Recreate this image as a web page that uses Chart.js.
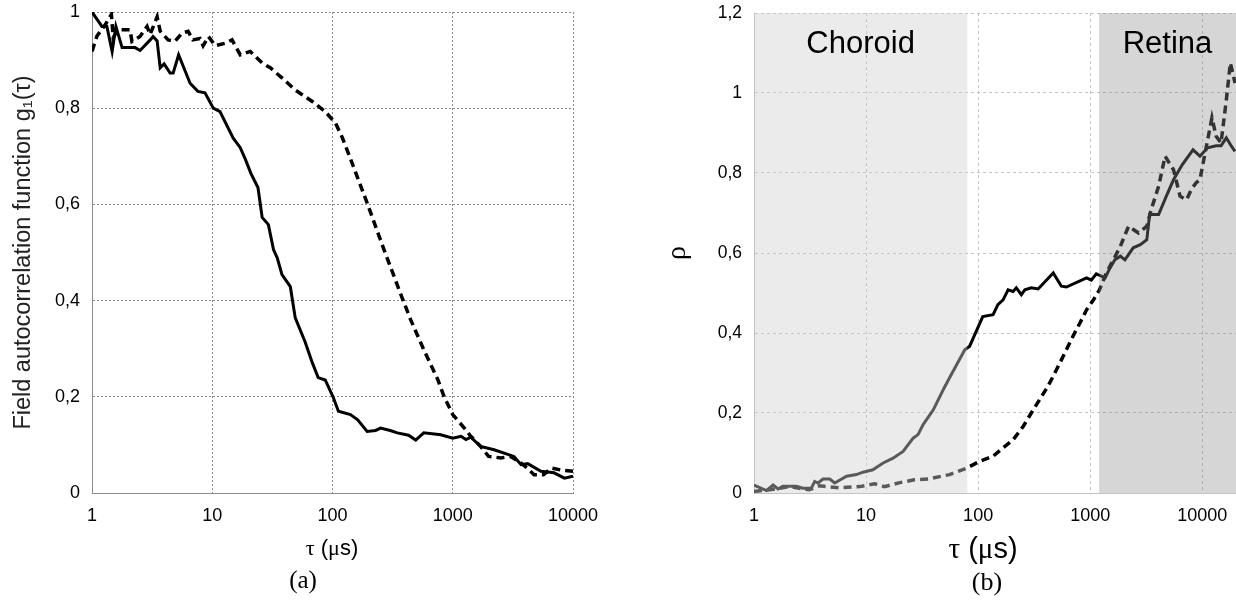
<!DOCTYPE html>
<html>
<head>
<meta charset="utf-8">
<script src="https://cdn.jsdelivr.net/npm/chart.js@4.4.1/dist/chart.umd.min.js"></script>
<style>
    html, body { margin: 0; padding: 0; background: #fff; }
    body { width: 1236px; height: 600px; position: relative; overflow: hidden; font-family: 'Liberation Sans', Arial, sans-serif; }
    canvas { position: absolute; top: 0; }
    #chartA { left: 0; }
    #chartB { left: 600px; }
    .lbl { position: absolute; transform: translate(-50%, -50%); white-space: nowrap; color: #000; }
    .g, .cap { font-family: 'Liberation Serif', 'Times New Roman', serif; }
</style>
</head>
<body>
<canvas id="chartA" width="600" height="600"></canvas>
<canvas id="chartB" width="636" height="600"></canvas>
<div class="lbl" style="left:332px; top:548px; font-size:22px;"><span class="g">τ</span> (<span class="g">μ</span>s)</div>
<div class="lbl cap" style="left:303px; top:580px; font-size:25px;">(a)</div>
<div class="lbl" style="left:983px; top:548px; font-size:29px;"><span class="g">τ</span> (<span class="g">μ</span>s)</div>
<div class="lbl cap" style="left:987px; top:582px; font-size:26px;">(b)</div>
<script>
// ==========================================
// Data
// ==========================================
const xTicks = [1, 10, 100, 1000, 10000];
const xLabels = ['1', '10', '100', '1000', '10000'];
const yTicksA = [0, 0.2, 0.4, 0.6, 0.8, 1];
const yLabelsA = ['0', '0,2', '0,4', '0,6', '0,8', '1'];
const yTicksB = [0, 0.2, 0.4, 0.6, 0.8, 1, 1.2];
const yLabelsB = ['0', '0,2', '0,4', '0,6', '0,8', '1', '1,2'];

// (a) g1(tau) : [tau (us), g1]
const solidA = [
    [1, 1], [1.21, 0.97], [1.33, 0.97], [1.47, 0.918], [1.58, 0.97], [1.78, 0.926], [2.28, 0.926],
    [2.51, 0.92], [3.05, 0.942], [3.22, 0.949], [3.48, 0.94], [3.69, 0.884], [3.98, 0.892], [4.46, 0.873],
    [4.73, 0.873], [5.25, 0.911], [6.54, 0.852], [7.6, 0.835], [8.7, 0.832], [10.2, 0.8], [11.6, 0.793],
    [14.9, 0.738], [17.1, 0.718], [18.9, 0.693], [21, 0.664], [24, 0.635], [26, 0.573], [29.3, 0.558],
    [32.3, 0.506], [34.7, 0.489], [38, 0.454], [44.6, 0.429], [49, 0.364], [59, 0.315], [67.9, 0.271],
    [76, 0.24], [87, 0.235], [101, 0.2], [112, 0.17], [141, 0.163], [162, 0.152], [194, 0.128],
    [228, 0.13], [251, 0.135], [302, 0.13], [346, 0.125], [429, 0.12], [492, 0.11], [574, 0.125],
    [794, 0.121], [1000, 0.114], [1172, 0.118], [1288, 0.111], [1413, 0.116], [1705, 0.097],
    [2209, 0.09], [3228, 0.076], [3706, 0.059], [4203, 0.061], [5412, 0.045], [6949, 0.042],
    [8483, 0.031], [10000, 0.035]
];
const dashA = [
    [1, 0.918], [1.1, 0.95], [1.3, 0.975], [1.45, 0.995], [1.5, 0.947], [1.65, 0.963], [2.07, 0.963],
    [2.15, 0.939], [2.51, 0.949], [2.87, 0.97], [3.04, 0.953], [3.48, 0.99], [3.69, 0.96], [4.3, 0.942],
    [4.9, 0.939], [5.6, 0.956], [6.3, 0.96], [6.9, 0.942], [7.9, 0.945], [8.4, 0.93], [9.3, 0.949],
    [10.6, 0.93], [12.8, 0.935], [14.6, 0.942], [17.1, 0.911], [20.7, 0.918], [26, 0.894], [30.4, 0.884],
    [38, 0.863], [49, 0.838], [67.9, 0.814], [87, 0.793], [106, 0.769], [121, 0.738], [141, 0.695],
    [194, 0.603], [268, 0.506], [366, 0.416], [447, 0.36], [574, 0.298], [750, 0.236], [845, 0.201],
    [1000, 0.163], [1248, 0.135], [1413, 0.118], [1705, 0.097], [1986, 0.076], [2512, 0.073],
    [3035, 0.076], [3706, 0.062], [4327, 0.048], [4735, 0.038], [5680, 0.038], [6618, 0.052],
    [7850, 0.048], [10000, 0.045]
];

// (b) rho(tau)
const solidB = [
    [1, 0.02], [1.29, 0.006], [1.48, 0.02], [1.64, 0.01], [1.81, 0.017], [2.39, 0.017], [2.74, 0.012],
    [3.25, 0.012], [3.48, 0.029], [3.73, 0.025], [4.13, 0.035], [4.74, 0.035], [5.25, 0.025], [6.7, 0.042],
    [8.2, 0.046], [9.4, 0.052], [11.5, 0.058], [14.2, 0.075], [17.4, 0.087], [21.4, 0.104], [26.3, 0.137],
    [29.1, 0.146], [32.3, 0.171], [39.8, 0.208], [48.8, 0.258], [55.6, 0.288], [76, 0.358], [84, 0.367],
    [110, 0.441], [136, 0.446], [150, 0.471], [167, 0.483], [185, 0.508], [205, 0.504], [219, 0.513],
    [243, 0.496], [261, 0.508], [298, 0.513], [343, 0.51], [468, 0.55], [553, 0.517], [614, 0.515],
    [928, 0.538], [1024, 0.532], [1133, 0.548], [1360, 0.538], [1500, 0.562], [1660, 0.583],
    [1860, 0.592], [2040, 0.583], [2420, 0.613], [2800, 0.621], [3200, 0.633], [3390, 0.696],
    [4080, 0.696], [4780, 0.742], [5540, 0.783], [6640, 0.821], [8270, 0.858], [9530, 0.842],
    [11150, 0.863], [13300, 0.868], [14700, 0.868], [16400, 0.888], [18200, 0.867], [19600, 0.854]
];
const dashB = [
    [1, 0.004], [1.38, 0.008], [2.07, 0.016], [3.1, 0.008], [3.85, 0.018], [5.8, 0.013], [8.8, 0.016],
    [11.9, 0.023], [14.6, 0.016], [20, 0.026], [27, 0.033], [35.8, 0.035], [55.6, 0.046], [78.7, 0.062],
    [103, 0.079], [136, 0.092], [167, 0.113], [205, 0.133], [253, 0.167], [298, 0.2], [353, 0.233],
    [420, 0.267], [500, 0.308], [593, 0.35], [702, 0.392], [810, 0.425], [928, 0.458], [1070, 0.483],
    [1210, 0.508], [1392, 0.55], [1610, 0.583], [1860, 0.617], [2200, 0.667], [2700, 0.65], [3200, 0.667],
    [3500, 0.708], [4080, 0.767], [4660, 0.842], [5540, 0.808], [6340, 0.742], [7250, 0.733],
    [7970, 0.758], [8780, 0.775], [9530, 0.783], [10600, 0.85], [12200, 0.938], [13300, 0.892],
    [14700, 0.875], [16400, 0.983], [17800, 1.075], [19000, 1.042], [19600, 1.025]
];

// shaded tissue zones in (b)
const zoneNames = ['Choroid', 'Retina'];
const zoneBounds = [[1, 80], [1200, 20000]];
const zoneFills = ['rgba(209, 209, 209, 0.43)', 'rgba(140, 140, 140, 0.36)'];

// ==========================================
// Helpers
// ==========================================
const SANS = "'Liberation Sans', Arial, sans-serif";
const SERIF = "'Liberation Serif', 'Times New Roman', serif";
const toPts = arr => arr.map(([x, y]) => ({ x, y }));

function line(data, dashed) {
    return {
        data: toPts(data),
        borderColor: '#000',
        borderWidth: dashed ? 3.5 : 3,
        borderDash: dashed ? [8, 5] : [],
        pointRadius: 0,
        tension: 0,
        fill: false
    };
}

// fixed axis boxes so the plot area lands where the figure has it
function fixX(s) { s.height = 107; s.paddingLeft = 0; s.paddingRight = 0; }
function fixY(w) { return s => { s.width = w; s.paddingTop = 0; s.paddingBottom = 0; }; }

function xScale(max, gridColor, dash) {
    return {
        type: 'logarithmic', min: 1, max: max,
        afterBuildTicks: s => { s.ticks = xTicks.map(v => ({ value: v })); },
        afterFit: fixX,
        ticks: {
            autoSkip: false, maxRotation: 0, padding: 12, color: '#000',
            font: { family: SANS, size: 18 },
            callback: (v, i) => xLabels[i]
        },
        grid: { color: gridColor, drawTicks: false },
        border: { color: gridColor, dash: dash }
    };
}

const shadePlugin = {
    id: 'shade',
    afterDatasetsDraw(chart) {
        const { ctx, chartArea: a, scales: { x } } = chart;
        ctx.save();
        zoneBounds.forEach((b, i) => {
            const x0 = x.getPixelForValue(b[0]);
            const x1 = Math.min(x.getPixelForValue(b[1]), a.right);
            ctx.fillStyle = zoneFills[i];
            ctx.fillRect(x0, a.top, x1 - x0, a.bottom - a.top);
            ctx.fillStyle = '#000';
            ctx.font = '31px ' + SANS;
            ctx.textAlign = 'center';
            ctx.textBaseline = 'middle';
            ctx.fillText(zoneNames[i], (x0 + x1) / 2, a.top + 31);
        });
        ctx.restore();
    }
};

const common = {
    responsive: false,
    maintainAspectRatio: false,
    animation: false,
    plugins: { legend: { display: false }, tooltip: { enabled: false } }
};

// ==========================================
// (a) field autocorrelation
// ==========================================
new Chart(document.getElementById('chartA'), {
    type: 'line',
    data: { datasets: [line(solidA, false), line(dashA, true)] },
    options: {
        ...common,
        layout: { padding: { top: 12, right: 27, left: 0, bottom: 0 } },
        scales: {
            x: xScale(10000, '#8c8c8c', [2, 2]),
            y: {
                min: 0, max: 1,
                afterBuildTicks: s => { s.ticks = yTicksA.map(v => ({ value: v })); },
                afterFit: fixY(92),
                ticks: { padding: 12, color: '#000', font: { family: SANS, size: 18 }, callback: (v, i) => yLabelsA[i] },
                grid: { color: '#8c8c8c', drawTicks: false },
                border: { color: '#8c8c8c', dash: [2, 2] },
                title: {
                    display: true, text: 'Field autocorrelation function g₁(τ)', color: '#222',
                    font: { family: SANS, size: 23.5 }, padding: { top: 9, bottom: 0 }
                }
            }
        }
    }
});

// ==========================================
// (b) rho
// ==========================================
new Chart(document.getElementById('chartB'), {
    type: 'line',
    data: { datasets: [line(solidB, false), line(dashB, true)] },
    options: {
        ...common,
        layout: { padding: { top: 13, right: 0, left: 0, bottom: 0 } },
        scales: {
            x: xScale(20000, '#c4c4c4', [3, 3]),
            y: {
                min: 0, max: 1.2,
                afterBuildTicks: s => { s.ticks = yTicksB.map(v => ({ value: v })); },
                afterFit: fixY(154),
                ticks: { padding: 12, color: '#000', font: { family: SANS, size: 17.5 }, callback: (v, i) => yLabelsB[i] },
                grid: { color: '#c4c4c4', drawTicks: false },
                border: { color: '#b8b8b8', dash: [3, 3] },
                title: {
                    display: true, text: 'ρ', color: '#000',
                    font: { family: SERIF, size: 28 }, padding: { top: 61, bottom: 0 }
                }
            }
        }
    },
    plugins: [shadePlugin]
});
</script>
</body>
</html>
